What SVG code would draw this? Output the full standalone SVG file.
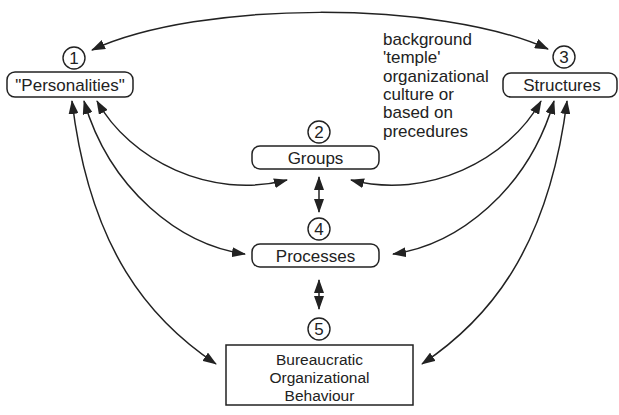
<svg xmlns="http://www.w3.org/2000/svg" width="619" height="415" viewBox="0 0 619 415">
<defs>
<style>
.box{fill:#fff;stroke:#222;stroke-width:1.5}
.num{fill:#fff;stroke:#222;stroke-width:1.4}
.t{font-family:"Liberation Sans",Arial,sans-serif;font-size:17px;fill:#222}
.s{font-size:15.5px}
.c{text-anchor:middle}
.n{font-family:"Liberation Sans",Arial,sans-serif;font-size:17px;fill:#222;text-anchor:middle}
.con{fill:none;stroke:#222;stroke-width:1.5;marker-start:url(#ah);marker-end:url(#ah)}
</style>
<marker id="ah" markerUnits="userSpaceOnUse" markerWidth="14" markerHeight="10" refX="13" refY="5" orient="auto-start-reverse" viewBox="0 0 14 10">
<path d="M0,0 L14,5 L0,10 z" fill="#222"/>
</marker>
</defs>
<rect width="619" height="415" fill="#fff"/>
<g id="connectors">
<path class="con" d="M92 50 C200 0 440 0 548 49"/>
<path class="con" d="M97 101 C130 160 210 200 287 180"/>
<path class="con" d="M84 101 C110 190 180 245 245 254"/>
<path class="con" d="M72 101 C90 250 150 320 216 364"/>
<path class="con" d="M541 101 C508 160 428 200 351 180"/>
<path class="con" d="M554 101 C528 190 458 245 393 254"/>
<path class="con" d="M567 101 C548 250 488 320 422 364"/>
<path class="con" d="M319 177 L319 212"/>
<path class="con" d="M319 280 L319 309"/>
</g>
<g id="personalities">
<circle class="num" cx="74" cy="58" r="11"/>
<text class="n" x="74" y="64">1</text>
<rect class="box" x="7" y="72" width="126" height="25" rx="8"/>
<text class="t c" x="70" y="91">"Personalities"</text>
</g>
<g id="groups">
<circle class="num" cx="319" cy="132" r="11"/>
<text class="n" x="319" y="138">2</text>
<rect class="box" x="252" y="146" width="127" height="23" rx="8"/>
<text class="t c" x="315.5" y="164">Groups</text>
</g>
<g id="structures">
<circle class="num" cx="564" cy="57" r="11"/>
<text class="n" x="564" y="63">3</text>
<rect class="box" x="503" y="73" width="114" height="24" rx="8"/>
<text class="t c" x="562" y="91">Structures</text>
</g>
<g id="processes">
<circle class="num" cx="319" cy="229" r="11"/>
<text class="n" x="319" y="235">4</text>
<rect class="box" x="252" y="244" width="127" height="23" rx="8"/>
<text class="t c" x="315.5" y="262">Processes</text>
</g>
<g id="behaviour">
<circle class="num" cx="319" cy="329" r="11"/>
<text class="n" x="319" y="335">5</text>
<rect class="box" x="226" y="345" width="187" height="60"/>
<text class="t s c" x="319.5" y="365">Bureaucratic</text>
<text class="t s c" x="319.5" y="383">Organizational</text>
<text class="t s c" x="319.5" y="401">Behaviour</text>
</g>
<g id="note">
<text class="t" x="383" y="45">background</text>
<text class="t" x="383" y="63.3">'temple'</text>
<text class="t" x="383" y="81.7">organizational</text>
<text class="t" x="383" y="100">culture or</text>
<text class="t" x="383" y="118.3">based on</text>
<text class="t" x="383" y="136.7">precedures</text>
</g>
</svg>
